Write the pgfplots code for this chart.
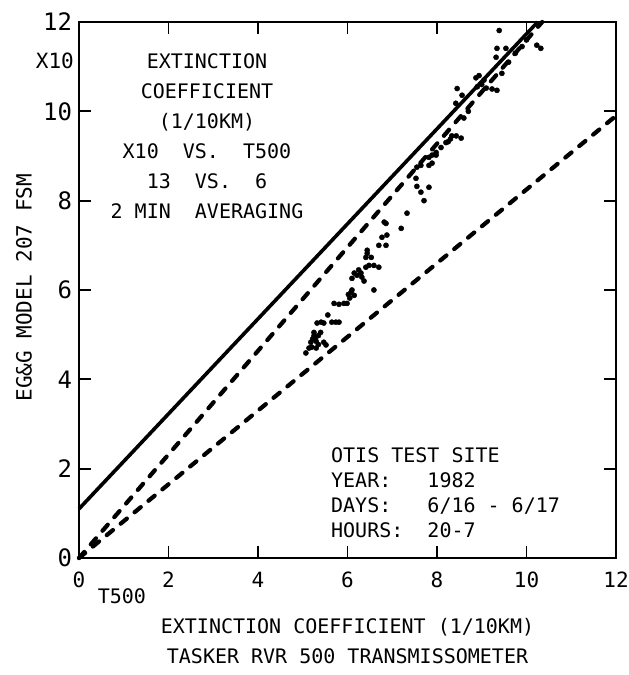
\documentclass[border=0pt]{standalone}
\usepackage{fontspec}
\setmainfont{DejaVu Sans Mono}
\usepackage{pgfplots}
\pgfplotsset{compat=1.18}
\pgfplotstableread{
x y
5.07 4.59
5.14 4.70
5.20 4.72
5.30 4.70
5.18 4.83
5.22 4.90
5.25 4.97
5.25 5.05
5.30 4.85
5.35 4.78
5.28 4.92
5.35 4.98
5.40 5.05
5.47 4.83
5.52 4.77
5.32 5.26
5.41 5.28
5.47 5.26
5.56 5.44
5.65 5.28
5.74 5.28
5.81 5.28
5.70 5.70
5.81 5.68
5.92 5.70
5.99 5.70
6.02 5.90
6.08 5.95
6.15 5.88
6.10 6.00
6.05 5.82
6.59 6.00
6.15 6.38
6.21 6.33
6.30 6.38
6.32 6.29
6.37 6.20
6.10 6.26
6.25 6.45
6.41 6.51
6.48 6.55
6.59 6.55
6.70 6.51
6.41 6.73
6.44 6.82
6.44 6.89
6.53 6.73
6.70 7.00
6.77 7.18
6.88 7.23
6.86 7.00
6.82 7.52
6.86 7.49
7.20 7.38
7.33 7.72
7.71 8.00
7.64 8.19
7.82 8.30
7.55 8.32
7.53 8.50
7.64 8.79
7.55 8.75
7.82 8.79
7.82 8.97
7.89 9.02
7.98 9.02
7.89 8.84
7.98 9.08
8.09 9.19
8.33 9.45
8.43 9.45
8.54 9.40
8.30 9.38
8.25 9.32
8.20 9.30
8.45 10.51
8.56 10.36
8.42 10.18
8.87 10.75
8.94 10.80
9.05 10.70
8.90 10.55
9.10 10.52
9.23 10.50
9.34 10.47
9.00 10.60
9.39 11.81
9.34 11.41
9.54 11.41
9.32 11.21
10.23 11.48
10.32 11.41
9.60 11.10
9.75 11.30
9.90 11.45
10.00 11.60
9.45 10.85
8.70 10.00
8.60 9.85
}\scatterdata
\begin{document}
\fontsize{20bp}{24bp}\selectfont
\begin{tikzpicture}
\begin{axis}[
  scale only axis, width=537bp, height=536bp,
  xmin=0, xmax=12, ymin=0, ymax=12,
  xtick={0,2,...,12}, ytick={0,2,...,12},
  tick align=inside, major tick length=12bp,
  axis line style={line width=2.6bp},
  every tick/.style={line width=1.8bp, black},
  /pgf/number format/assume math mode=true,
  xticklabel style={yshift=-7bp, font=\fontsize{21bp}{21bp}\selectfont},
  yticklabel style={font=\fontsize{24bp}{24bp}\selectfont},
  clip=false,
  xlabel={EXTINCTION COEFFICIENT (1/10KM)\\TASKER RVR 500 TRANSMISSOMETER},
  xlabel style={at={(axis description cs:0.5,0)}, anchor=north, yshift=-60bp, align=center, inner sep=0pt, font=\fontsize{20bp}{30bp}\selectfont},
]
\addplot[black, line width=3.6bp] coordinates {(0,1.1) (10.25,12)};
\addplot[black, line width=4.2bp, line cap=round, dash pattern=on 8bp off 10bp] coordinates {(0,0) (10.35,12)};
\addplot[black, line width=4.2bp, line cap=round, dash pattern=on 8bp off 10bp] coordinates {(0,0) (12,9.9)};
\addplot[only marks, mark=*, mark size=2.6bp, black] table {\scatterdata};
\node[anchor=north, align=center, inner sep=0pt, font=\fontsize{20bp}{30bp}\selectfont] at (axis cs:2.86,11.3)
  {EXTINCTION\\COEFFICIENT\\(1/10KM)\\X10~~VS.~~T500\\13~~VS.~~6\\2 MIN~~AVERAGING};
\node[anchor=north west, align=left, inner sep=0pt, font=\fontsize{20bp}{25bp}\selectfont] at (axis cs:5.63,2.48)
  {OTIS TEST SITE\\YEAR:~~~1982\\DAYS:~~~6/16 - 6/17\\HOURS:~~20-7};
\node[anchor=east, inner sep=0pt, font=\fontsize{21bp}{21bp}\selectfont] at (axis cs:-0.11,11.14) {X10};
\node[anchor=center, inner sep=0pt, font=\fontsize{20bp}{20bp}\selectfont] at (axis cs:0.96,-0.85) {T500};
\node[rotate=90, anchor=south, inner sep=0pt, font=\fontsize{21bp}{21bp}\selectfont] at (axis cs:-1.05,6.05) {EG\&G MODEL 207 FSM};
\end{axis}
\pgfresetboundingbox
\useasboundingbox ([xshift=-79bp,yshift=-117bp]current axis.south west) rectangle ([xshift=13bp,yshift=22bp]current axis.north east);
\end{tikzpicture}
\end{document}
